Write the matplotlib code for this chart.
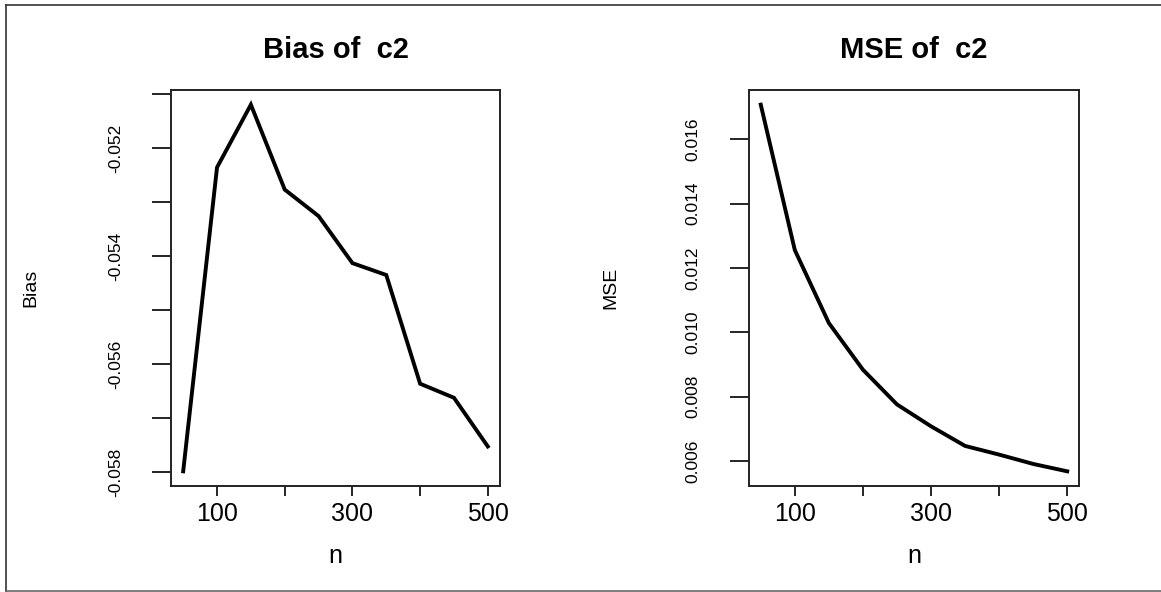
import matplotlib
matplotlib.use('Agg')
import matplotlib.pyplot as plt
from matplotlib.lines import Line2D

plt.rcParams['font.family'] = ['Liberation Sans', 'DejaVu Sans']

# sample sizes and simulated results
n = [50, 100, 150, 200, 250, 300, 350, 400, 450, 500]
bias = [-0.05798, -0.05236, -0.05120, -0.05277, -0.05326,
        -0.05413, -0.05435, -0.05636, -0.05662, -0.05752]
mse = [0.01708, 0.01256, 0.01029, 0.00884, 0.00776,
       0.00708, 0.00647, 0.00620, 0.00591, 0.00568]

x_ticks = [100, 200, 300, 400, 500]
x_labels = ['100', '', '300', '', '500']
bias_ticks = [-0.051, -0.052, -0.053, -0.054, -0.055, -0.056, -0.057, -0.058]
bias_labels = ['', '-0.052', '', '-0.054', '', '-0.056', '', '-0.058']
mse_ticks = [0.006, 0.008, 0.010, 0.012, 0.014, 0.016]
mse_labels = ['0.006', '0.008', '0.010', '0.012', '0.014', '0.016']


def r_lim(v):
    # R's default 4% axis extension
    lo, hi = min(v), max(v)
    pad = 0.04 * (hi - lo)
    return lo - pad, hi + pad


W, H = 1161, 592
fig = plt.figure(figsize=(W / 100, H / 100), dpi=100)


def panel(rect, y, title, ylabel, yticks, ylabels, ylab_x):
    ax = fig.add_axes(rect)
    ax.plot(n, y, color='black', lw=2.8, solid_joinstyle='miter')
    ax.set_xlim(*r_lim(n))
    ax.set_ylim(*r_lim(y))
    ax.set_xticks(x_ticks)
    ax.set_xticklabels(x_labels)
    ax.set_yticks(yticks)
    ax.set_yticklabels(ylabels)
    ax.tick_params(axis='x', direction='out', length=7.2, width=1.2,
                   pad=4, labelsize=18)
    ax.tick_params(axis='y', direction='out', length=13.7, width=1.2,
                   pad=21, labelsize=12.5)
    for lab in ax.get_yticklabels():
        lab.set_rotation(90)
        lab.set_va('center')
    for s in ax.spines.values():
        s.set_color('#222222')
        s.set_linewidth(1.4)
    ax.set_title(title, fontsize=21, fontweight='bold', y=1.0808, pad=0,
                 va='baseline')
    ax.set_xlabel('n', fontsize=18, va='baseline')
    ax.xaxis.set_label_coords(0.5, -0.1944)
    ax.set_ylabel(ylabel, fontsize=14, va='center')
    ax.yaxis.set_label_coords(ylab_x, 0.5)
    return ax


panel([171 / W, 106 / H, 329 / W, 396 / H], bias, 'Bias of  c2', 'Bias',
      bias_ticks, bias_labels, -0.427)
panel([748.5 / W, 106 / H, 331 / W, 396 / H], mse, 'MSE of  c2', 'MSE',
      mse_ticks, mse_labels, -0.4154)

# thin frame around the picture (no right edge)
fig.add_artist(Line2D([6 / W, 1], [1 - 5 / H, 1 - 5 / H], color='#333333', lw=1.2))
fig.add_artist(Line2D([6 / W, 6 / W], [1 / H, 1 - 5 / H], color='#333333', lw=1.2))
fig.add_artist(Line2D([6 / W, 1], [1 / H, 1 / H], color='#666666', lw=1.2))

fig.savefig('out.png', dpi=100)
